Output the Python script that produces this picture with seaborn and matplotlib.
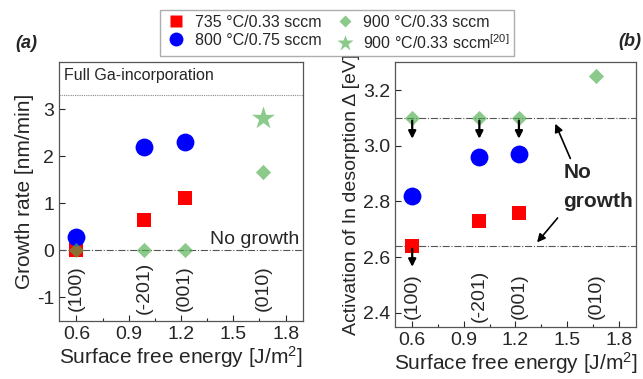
import numpy as np
import pandas as pd
import matplotlib
matplotlib.use('Agg')
import matplotlib.pyplot as plt
from matplotlib.lines import Line2D
import seaborn as sns

# surface free energy of each facet
facets = ['(100)', '(-201)', '(001)', '(010)']
energy = [0.6, 0.99, 1.22, 1.67]

# (a) growth rate [nm/min]
rate_735 = [0.0, 0.65, 1.1]
rate_800 = [0.27, 2.2, 2.3]
rate_900 = [0.0, 0.0, 0.0, 1.67]
rate_900_ref = [2.8]

# (b) activation energy of In desorption [eV]
act_735 = [2.64, 2.73, 2.76]
act_800 = [2.82, 2.96, 2.97]
act_900 = [3.1, 3.1, 3.1, 3.25]

full_ga = 3.3
no_growth_hi = 3.1
no_growth_lo = 2.64

labels = ['735 °C/0.33 sccm', '800 °C/0.75 sccm', '900 °C/0.33 sccm',
          '900 °C/0.33 sccm$^{[20]}$']

sns.set_style('ticks')
plt.rcParams['font.family'] = ['Liberation Sans', 'DejaVu Sans']
plt.rcParams['xtick.direction'] = 'in'
plt.rcParams['ytick.direction'] = 'in'
plt.rcParams['mathtext.default'] = 'regular'
plt.rcParams['axes.unicode_minus'] = False

RED = '#ff0000'
BLUE = '#0000ff'
GREEN = '#4fae4f'

fig = plt.figure(figsize=(6.43, 3.79), dpi=100)
ax1 = fig.add_axes([0.0918, 0.1538, 0.3795, 0.6826])
ax2 = fig.add_axes([0.6143, 0.138, 0.3748, 0.698])


def draw_series(ax, r735, r800, r900, r900ref=None):
    sns.scatterplot(x=energy[:len(r735)], y=r735, marker='s', color=RED, s=110,
                    linewidth=0, ax=ax, zorder=3)
    sns.scatterplot(x=energy[:len(r800)], y=r800, marker='o', color=BLUE, s=165,
                    linewidth=0, ax=ax, zorder=4)
    sns.scatterplot(x=energy[:len(r900)], y=r900, marker='D', color=GREEN, s=60,
                    linewidth=0, alpha=0.65, ax=ax, zorder=5)
    if r900ref is not None:
        sns.scatterplot(x=energy[3:], y=r900ref, marker='*', color=GREEN, s=300,
                        linewidth=0, alpha=0.65, ax=ax, zorder=5)


def style_axes(ax, ylim, yticks, ylabel, ylabel_size):
    ax.set_xlim(0.5, 1.9)
    ax.set_ylim(*ylim)
    ax.set_xticks([0.6, 0.9, 1.2, 1.5, 1.8])
    ax.set_xticks(np.arange(0.75, 1.9, 0.3), minor=True)
    ax.set_yticks(yticks)
    ax.tick_params(labelsize=14, length=4, width=0.8)
    ax.tick_params(which='minor', length=2.5, width=0.8)
    ax.set_xlabel('Surface free energy [J/m$^2$]', fontsize=15, labelpad=1)
    ax.set_ylabel(ylabel, fontsize=ylabel_size, labelpad=2)
    for sp in ax.spines.values():
        sp.set_color('#555555')
        sp.set_linewidth(0.9)


# ---- (a) ----
draw_series(ax1, rate_735, rate_800, rate_900, rate_900_ref)
ax1.axhline(full_ga, color='#888888', lw=0.8, ls=(0, (1, 1)), zorder=1)
ax1.axhline(0, color='#555555', lw=0.8, ls='-.', zorder=1)
ax1.text(0.53, 3.62, 'Full Ga-incorporation', fontsize=11.5)
ax1.text(1.365, 0.13, 'No growth', fontsize=14)
for x, f in zip(energy, facets):
    ax1.text(x, -0.8, f, rotation=90, fontsize=14, ha='center', va='center')
style_axes(ax1, (-1.5, 4), [-1, 0, 1, 2, 3], 'Growth rate [nm/min]', 15)

# ---- (b) ----
draw_series(ax2, act_735, act_800, act_900)
ax2.axhline(no_growth_hi, color='#555555', lw=0.8, ls='-.', zorder=1)
ax2.axhline(no_growth_lo, color='#555555', lw=0.8, ls='-.', zorder=1)
down = dict(arrowstyle='-|>', color='k', lw=1.6, mutation_scale=11)
for x in energy[:3]:
    ax2.annotate('', xy=(x, 3.015), xytext=(x, no_growth_hi), arrowprops=down, zorder=6)
ax2.annotate('', xy=(energy[0], 2.555), xytext=(energy[0], no_growth_lo),
             arrowprops=down, zorder=6)
thin = dict(arrowstyle='-|>', color='k', lw=1.2, mutation_scale=12)
ax2.annotate('', xy=(1.425, 3.088), xytext=(1.525, 2.945), arrowprops=thin)
ax2.annotate('', xy=(1.315, 2.645), xytext=(1.455, 2.748), arrowprops=thin)
ax2.text(1.478, 2.885, 'No', fontsize=15, fontweight='bold')
ax2.text(1.478, 2.78, 'growth', fontsize=15, fontweight='bold')
for x, f in zip(energy, facets):
    ax2.text(x, 2.46, f, rotation=90, fontsize=14, ha='center', va='center')
style_axes(ax2, (2.35, 3.3), [2.4, 2.6, 2.8, 3.0, 3.2],
           'Activation of In desorption Δ [eV]', 14)
ax2.yaxis.set_major_formatter(matplotlib.ticker.FormatStrFormatter('%.1f'))

handles = [
    Line2D([], [], ls='none', marker='s', ms=8, mfc=RED, mec='none'),
    Line2D([], [], ls='none', marker='o', ms=10, mfc=BLUE, mec='none'),
    Line2D([], [], ls='none', marker='D', ms=6.5, mfc=GREEN, mec='none', alpha=0.65),
    Line2D([], [], ls='none', marker='*', ms=12, mfc=GREEN, mec='none', alpha=0.65),
]
fig.legend(handles, labels, ncol=2, loc='upper center',
           bbox_to_anchor=(0.524, 0.974), fontsize=11.5, frameon=True,
           fancybox=False, edgecolor='#999999', handletextpad=0.4,
           columnspacing=0.7, borderpad=0.3, labelspacing=0.2,
           handlelength=1.5, borderaxespad=0)

fig.text(26 / 643, 1 - 43 / 379, '(a)', fontsize=13, fontweight='bold',
         fontstyle='italic', ha='center', va='center')
fig.text(641 / 643, 1 - 41 / 379, '(b)', fontsize=13, fontweight='bold',
         fontstyle='italic', ha='right', va='center')

fig.savefig('out.png', dpi=100)
